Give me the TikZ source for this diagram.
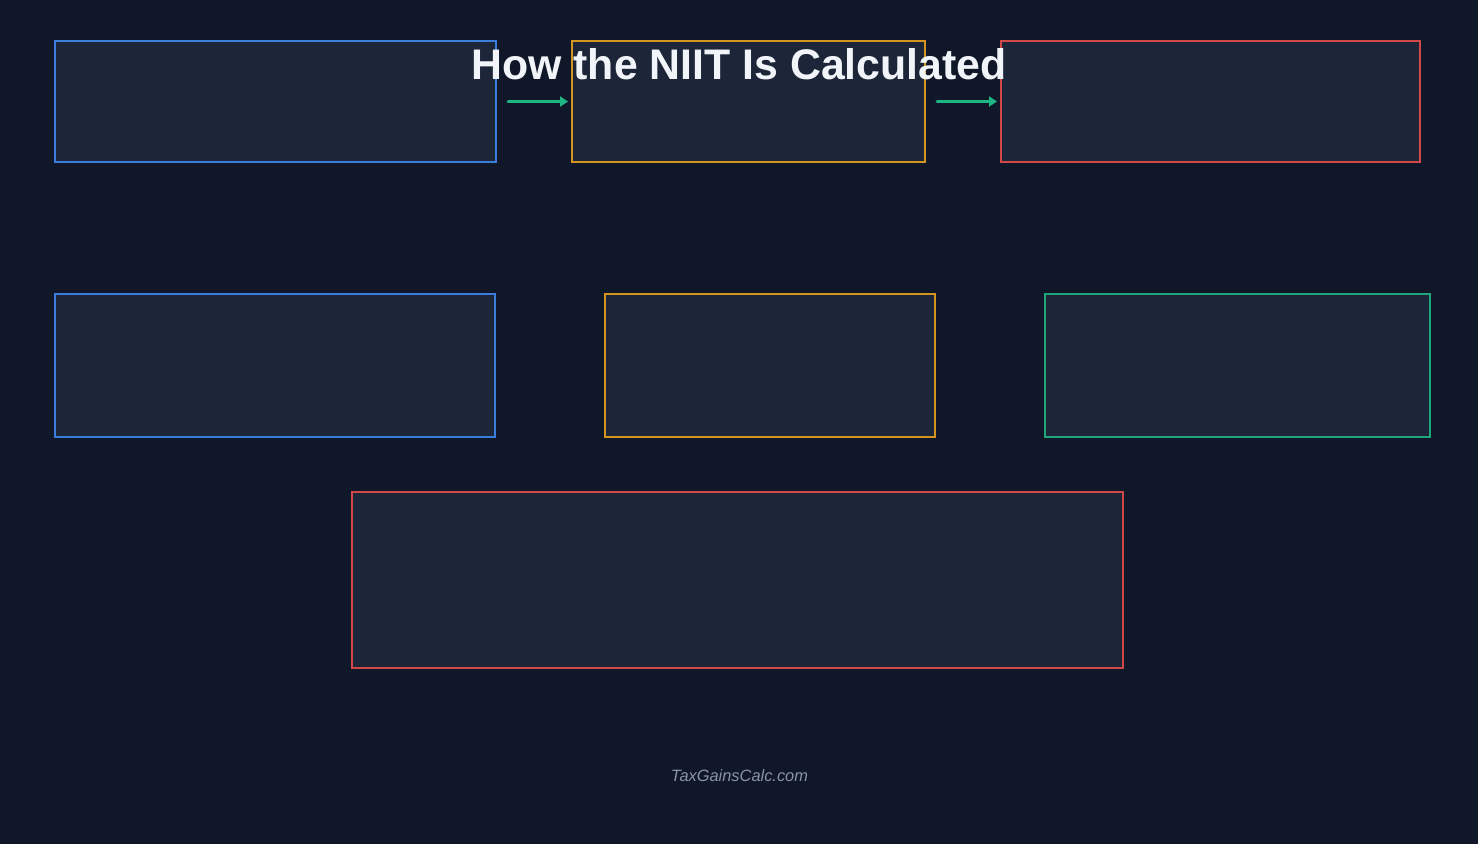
\documentclass[tikz,border=0pt]{standalone}
\usepackage{fontspec}
\setmainfont{Liberation Sans}
\usetikzlibrary{arrows.meta}
\definecolor{bgc}{HTML}{0F1729}
\definecolor{boxfill}{HTML}{1C2638}
\definecolor{cblue}{HTML}{3B7DDD}
\definecolor{corange}{HTML}{D4951F}
\definecolor{cred}{HTML}{D04848}
\definecolor{cgreen}{HTML}{1FA57A}
\definecolor{carrow}{HTML}{1DB584}
\definecolor{cfoot}{HTML}{8A94A6}
\definecolor{ctitle}{HTML}{F1F5F9}
\begin{document}
\begin{tikzpicture}[x=1pt,y=-1pt,
  panel/.style={draw, fill=boxfill, inner sep=0pt, outer sep=0pt, anchor=north west},
  flow/.style={draw=carrow, line width=3pt, line cap=round, -{Triangle[length=8pt,width=10pt]}}
]
\fill[bgc] (0,0) rectangle (1478,844);
\useasboundingbox (0,0) rectangle (1478,844);
\node[panel, draw=cblue, line width=2.6pt, minimum width=441pt, minimum height=121pt] (b1) at (55,41) {};
\node[panel, draw=corange, line width=2.6pt, minimum width=353pt, minimum height=121pt] (b2) at (572,41) {};
\node[panel, draw=cred, line width=2.6pt, minimum width=419pt, minimum height=121pt] (b3) at (1001,41) {};
\node[panel, draw=cblue, line width=2pt, minimum width=440pt, minimum height=143pt] (b4) at (55,294) {};
\node[panel, draw=corange, line width=2pt, minimum width=330pt, minimum height=143pt] (b5) at (605,294) {};
\node[panel, draw=cgreen, line width=2pt, minimum width=385pt, minimum height=143pt] (b6) at (1045,294) {};
\node[panel, draw=cred, line width=2.6pt, minimum width=771pt, minimum height=176pt] (b7) at (352,492) {};
\draw[flow, shorten <=12pt, shorten >=4pt] (b1.east) -- (b2.west);
\draw[flow, shorten <=12pt, shorten >=4pt] (b2.east) -- (b3.west);
\node[text=ctitle, font=\bfseries\fontsize{42.8}{50}\selectfont, inner sep=0pt] (title) at (739,64) {How the NIIT Is Calculated};
\node[text=cfoot, font=\itshape\fontsize{16.4}{19}\selectfont, inner sep=0pt] (foot) at (739.5,776) {TaxGainsCalc.com};
\end{tikzpicture}
\end{document}
